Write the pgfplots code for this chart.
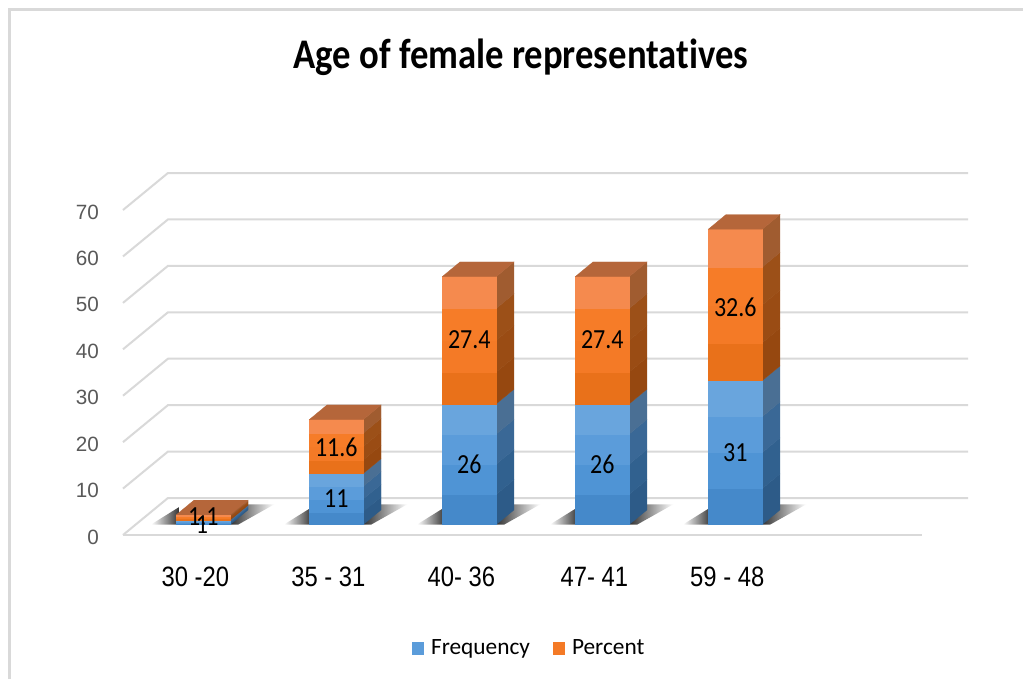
\documentclass[border=0pt]{standalone}
\usepackage{pgfplots}
\pgfplotsset{compat=1.18}
\usepackage{fontspec}
\setmainfont{Carlito}[Ligatures={NoCommon}]
\newfontfamily\arialf{Liberation Sans}
\definecolor{gridc}{HTML}{D9D9D9}
\definecolor{b1}{HTML}{4589CA}\definecolor{b2}{HTML}{4F94D5}\definecolor{b3}{HTML}{5B9CDA}\definecolor{b4}{HTML}{69A5DD}
\definecolor{bs1}{HTML}{2D5B88}\definecolor{bs2}{HTML}{31618F}\definecolor{bs3}{HTML}{3A6896}\definecolor{bs4}{HTML}{4A6F94}
\definecolor{o1}{HTML}{E9711A}\definecolor{o2}{HTML}{F47A26}\definecolor{o3}{HTML}{F67C28}\definecolor{o4}{HTML}{F58A4E}
\definecolor{os1}{HTML}{964810}\definecolor{os2}{HTML}{9A4C14}\definecolor{os3}{HTML}{9C5018}\definecolor{os4}{HTML}{A05C30}
\definecolor{otop}{HTML}{B5663A}
\def\hw{0.203}\def\dx{0.133}\def\dy{3.15}\def\base{2.26}
\newcommand\dl{\fontsize{18}{20}\selectfont}
\newcommand\tall[1]{\scalebox{1}[1.15]{#1}}
\newcommand\nar[1]{\scalebox{0.85}[1]{#1}}
% one band of a segment: centre, y0, y1, front colour, side colour
\newcommand\band[5]{%
  \pgfmathsetmacro\xa{#1-\hw}\pgfmathsetmacro\xb{#1+\hw}\pgfmathsetmacro\xc{#1+\hw+\dx}%
  \pgfmathsetmacro\ya{#2}\pgfmathsetmacro\yb{#3}%
  \pgfmathsetmacro\yc{#2+\dy}\pgfmathsetmacro\yd{#3+\dy}%
  \addplot[fill=#5,draw=#5,line width=0.2pt,forget plot] coordinates {(\xb,\ya)(\xc,\yc)(\xc,\yd)(\xb,\yb)} --cycle;
  \addplot[fill=#4,draw=#4,line width=0.2pt,forget plot] coordinates {(\xa,\ya)(\xb,\ya)(\xb,\yb)(\xa,\yb)} --cycle;
}
% one segment: centre, start, height, colour prefix
\newcommand\seg[4]{%
  \pgfmathsetmacro\sa{#2}\pgfmathsetmacro\sb{#2+0.25*#3}\pgfmathsetmacro\sc{#2+0.5*#3}%
  \pgfmathsetmacro\sd{#2+0.75*#3}\pgfmathsetmacro\se{#2+#3}%
  \edef\tmp{\noexpand\band{#1}{\sa}{\sb}{#41}{#4s1}\noexpand\band{#1}{\sb}{\sc}{#42}{#4s2}%
    \noexpand\band{#1}{\sc}{\sd}{#43}{#4s3}\noexpand\band{#1}{\sd}{\se}{#44}{#4s4}}\tmp
}
% one column: centre, frequency, percent
\newcommand\column[3]{%
  \pgfmathsetmacro\fa{\base}\pgfmathsetmacro\fb{\base+#2}\pgfmathsetmacro\fc{\base+#2+#3}%
  \edef\tmpa{\noexpand\seg{#1}{\fa}{#2}{b}\noexpand\seg{#1}{\fb}{#3}{o}}\tmpa
  \pgfmathsetmacro\xa{#1-\hw}\pgfmathsetmacro\xb{#1+\hw}\pgfmathsetmacro\xc{#1+\hw+\dx}\pgfmathsetmacro\xd{#1-\hw+\dx}%
  \pgfmathsetmacro\ya{\base+#2+#3}\pgfmathsetmacro\yb{\ya+\dy}%
  \addplot[fill=otop,draw=otop,line width=0.2pt,forget plot] coordinates {(\xa,\ya)(\xb,\ya)(\xc,\yb)(\xd,\yb)} --cycle;
}
% ground shadow of a column
\newcommand\gshadow[1]{%
  \pgfmathsetmacro\xa{#1-\hw-0.19}\pgfmathsetmacro\xb{#1-\hw+0.02}%
  \pgfmathsetmacro\xd{#1+\hw-0.02}\pgfmathsetmacro\xe{#1+\hw+0.33}\pgfmathsetmacro\xf{#1+\hw+0.06}%
  \addplot[draw=none,forget plot,shade,left color=white,right color=black!80] coordinates {(\xa,\base)(\xb,\base)(\xb,6.0)} --cycle;
  \addplot[draw=none,forget plot,shade,left color=black!85,right color=white] coordinates {(\xd,\base)(\xd,6.6)(\xe,6.6)(\xf,\base)} --cycle;
}
\begin{document}
\begin{tikzpicture}[x=0.75pt,y=0.75pt]
\useasboundingbox (0,0) rectangle (1023,679);
\fill[white] (0,0) rectangle (1023,679);
\draw[gridc,line width=2.2pt] (9.5,0) -- (9.5,669.5) -- (1023,669.5);
\node[font=\bfseries\fontsize{27.5}{30}\selectfont,anchor=center] at (521,622) {\tall{Age of female representatives}};
\begin{axis}[
  at={(92.25pt,108pt)},anchor=south west,
  scale only axis,width=599.25pt,height=243.75pt,
  xmin=-0.604,xmax=5.404,ymin=0,ymax=70,
  clip=false,axis line style={draw=none},
  major tick length=0pt,
  ytick={0,10,20,30,40,50,60,70},
  xtick={0,1,2,3,4},
  xticklabels={\nar{30 -20},\nar{35 - 31},\nar{40- 36},\nar{47- 41},\nar{59 - 48}},
  /pgf/number format/assume math mode=true,
  yticklabel style={font=\arialf\fontsize{15.5}{18}\selectfont,text=black!65,anchor=east,xshift=-14.5pt,yshift=-1.5pt},
  xticklabel style={font=\arialf\fontsize{21}{24}\selectfont,text=black,anchor=center,yshift=-31.5pt,xshift=-6pt},
  legend style={at={(axis cs:1.565,-24.4)},anchor=west,draw=none,fill=none,legend columns=2,
    font=\fontsize{17.5}{20}\selectfont,/tikz/every even column/.append style={column sep=15pt},inner sep=0pt},
  legend image code/.code={\fill[#1] (0pt,-4.7pt) rectangle (9.5pt,4.7pt);\path (12.5pt,0pt);},
]
\addlegendimage{fill=b3,draw=none}\addlegendentry{Frequency}
\addlegendimage{fill=o2,draw=none}\addlegendentry{Percent}
% gridlines
\addplot[gridc,line width=1.5pt,forget plot] coordinates {(-0.604,0)(-0.266,7.97)(5.75,7.97)};
\addplot[gridc,line width=1.5pt,forget plot] coordinates {(-0.604,10)(-0.266,17.97)(5.75,17.97)};
\addplot[gridc,line width=1.5pt,forget plot] coordinates {(-0.604,20)(-0.266,27.97)(5.75,27.97)};
\addplot[gridc,line width=1.5pt,forget plot] coordinates {(-0.604,30)(-0.266,37.97)(5.75,37.97)};
\addplot[gridc,line width=1.5pt,forget plot] coordinates {(-0.604,40)(-0.266,47.97)(5.75,47.97)};
\addplot[gridc,line width=1.5pt,forget plot] coordinates {(-0.604,50)(-0.266,57.97)(5.75,57.97)};
\addplot[gridc,line width=1.5pt,forget plot] coordinates {(-0.604,60)(-0.266,67.97)(5.75,67.97)};
\addplot[gridc,line width=1.5pt,forget plot] coordinates {(-0.604,70)(-0.266,77.97)(5.75,77.97)};
\addplot[gridc,line width=1.5pt,forget plot] coordinates {(-0.604,0)(5.404,0)};
\gshadow{0}\gshadow{1}\gshadow{2}\gshadow{3}\gshadow{4}
\column{0}{1}{1.1}
\column{1}{11}{11.6}
\column{2}{26}{27.4}
\column{3}{26}{27.4}
\column{4}{31}{32.6}
\node[font=\dl] at (axis cs:-0.01,2.3) {\tall{1}};
\node[font=\dl] at (axis cs:0,4.0) {\tall{1.1}};
\node[font=\dl] at (axis cs:1,7.8) {\tall{11}};
\node[font=\dl] at (axis cs:1,19) {\tall{11.6}};
\node[font=\dl] at (axis cs:2,15.3) {\tall{26}};
\node[font=\dl] at (axis cs:2,42) {\tall{27.4}};
\node[font=\dl] at (axis cs:3,15.3) {\tall{26}};
\node[font=\dl] at (axis cs:3,42) {\tall{27.4}};
\node[font=\dl] at (axis cs:4,17.8) {\tall{31}};
\node[font=\dl] at (axis cs:4,49) {\tall{32.6}};
\end{axis}
\end{tikzpicture}
\end{document}
